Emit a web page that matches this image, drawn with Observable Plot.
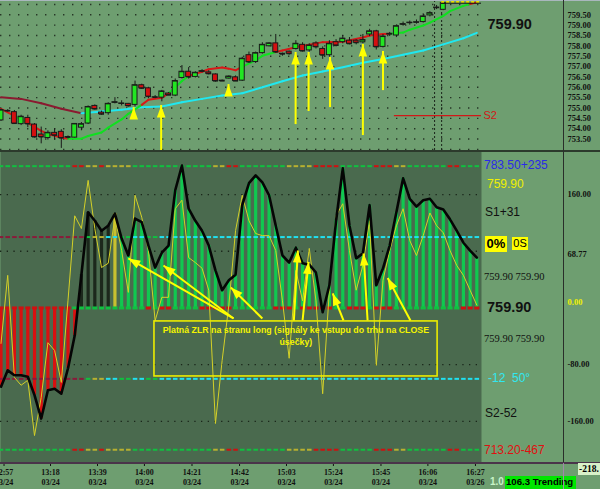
<!DOCTYPE html>
<html><head><meta charset="utf-8">
<script src="https://cdn.jsdelivr.net/npm/d3@7"></script>
<script src="https://cdn.jsdelivr.net/npm/@observablehq/plot@0.6"></script>
<style>
html,body{margin:0;padding:0;background:#6e9e70;}
#chart{position:relative;width:600px;height:489px;overflow:hidden;background:#6e9e70;font-family:"Liberation Sans",Arial,sans-serif;}
#chart svg{position:absolute;left:0;}
.l{position:absolute;white-space:pre;line-height:1;}
.ln{position:absolute;}
</style></head><body><div id="chart"></div>
<script>
// ---------------- DATA ----------------
const timeLabels = ["12:57","13:18","13:39","14:00","14:21","14:42","15:03","15:24","15:45","16:06","16:27"];
const dateLabels = ["03/24","03/24","03/24","03/24","03/24","03/24","03/24","03/24","03/24","03/24","03/26"];
const timeTickBars = [0.45,7.39,14.4,21.4,28.5,35.6,42.6,49.6,56.7,63.7,70.8];

const priceTicks = [753.5,754,754.5,755,755.5,756,756.5,757,757.5,758,758.5,759,759.5];
const gridPrices = [753,753.5,754,754.5,755,755.5,756,756.5,757,757.5,758,758.5,759,759.5,760];

const candleOpen  = [754.40,754.84,754.80,754.22,754.52,754.20,753.72,753.55,753.80,753.85,753.60,753.57,754.05,754.25,755.10,754.78,754.75,755.25,755.20,755.20,755.15,756.10,755.95,755.50,755.50,755.70,755.60,756.45,756.75,756.50,756.75,756.72,756.62,756.32,756.42,756.48,756.32,757.55,757.22,757.65,757.98,758.12,757.62,757.72,757.85,758.05,757.78,758.12,757.85,757.55,758.18,758.18,758.25,758.25,758.17,758.55,758.70,757.95,758.55,758.50,759.02,759.10,759.12,759.15,759.47,759.82,759.74];
const candleClose = [754.90,754.86,754.25,754.58,754.23,753.60,753.60,753.80,753.68,753.55,753.58,754.23,754.22,755.05,754.95,754.70,755.20,755.28,755.22,755.10,756.10,755.95,755.55,755.52,755.80,755.62,756.30,756.75,756.50,756.70,756.78,756.65,756.30,756.30,756.52,756.30,757.38,757.22,757.65,758.05,758.12,757.70,757.60,757.62,758.10,757.75,758.02,757.95,757.55,758.10,758.02,758.35,758.10,758.15,758.28,758.70,757.95,758.45,758.58,758.95,759.05,759.12,759.14,759.42,759.58,759.85,760.06];
const candleHigh  = [754.95,754.92,754.88,754.65,754.65,754.25,754.08,753.90,754.00,753.95,753.65,754.25,754.30,755.10,755.15,754.85,755.25,755.50,755.35,755.22,756.30,756.15,756.00,755.60,755.85,755.75,756.40,757.05,756.95,756.75,756.85,756.80,756.65,756.35,756.55,756.55,757.45,757.70,757.70,758.15,758.15,758.55,757.65,757.75,758.25,758.15,758.10,758.20,757.95,758.25,758.30,758.50,758.40,758.30,758.55,758.80,758.75,758.55,758.65,759.00,759.15,759.20,759.25,759.55,759.65,759.95,760.12];
const candleLow   = [754.35,754.80,754.22,754.15,754.05,753.55,753.27,753.45,753.45,753.05,753.50,753.55,753.90,754.20,754.90,754.65,754.65,755.20,755.10,755.05,755.05,755.90,755.45,755.45,755.30,755.60,755.55,756.40,756.40,756.45,756.70,756.60,756.25,756.28,756.40,756.28,756.28,757.15,757.15,757.60,757.95,757.65,757.50,757.55,757.80,757.70,757.70,757.85,757.35,757.45,757.95,758.10,758.05,758.05,758.10,758.45,757.80,757.90,758.45,758.40,758.95,759.00,759.05,759.10,759.40,759.75,759.70];

const slowBars = [0,3,6,9,12,15,18,21,24,27,30,33,36,39,42,45,48,51,54,57,60,63,66,69,71];
const slowVals = [755.52,755.44,755.23,754.96,754.75,754.83,754.91,755.04,755.07,755.28,755.44,755.60,755.71,756.00,756.29,756.57,756.76,756.97,757.18,757.37,757.57,757.78,758.07,758.37,758.63];
const slowUpRanges = [[12,72]];

const fastBars = [0,2,4,6,7,9,10,12,13,15,16,18,19,21,22,24,25,27,28,30,31,33,34,35,36,38,39,41,42,44,45,48,51,54,55,57,58,60,61,63,64,66,67,69,70,71];
const fastVals = [754.96,754.62,754.28,753.90,753.74,753.58,753.52,753.52,753.65,753.82,754.05,754.45,754.72,755.15,755.40,755.50,755.70,756.30,756.55,756.75,756.87,756.96,756.90,756.82,757.00,757.30,757.52,757.70,757.78,757.93,758.00,758.18,758.20,758.40,758.50,758.57,758.58,758.64,758.78,758.98,759.12,759.45,759.68,759.93,760.02,760.10];
const fastUpRanges = [[1.9,3.4],[9.9,21.3],[24.8,27.8],[35.7,40.2],[57.9,69.9]];

const s2Level = 754.63, s2FromBar = 58.7;
const cursorBars = [64.7, 65.75];
const lastPrice = "759.90";

const upArrowBars = [19.8,23.9,33.95,43.96,45.9,49.1,54.0,57.0];
const upArrowTip  = [755.02,755.12,756.13,757.68,757.68,757.44,758.07,757.73];
const upArrowTail = [754.57,752.95,755.78,754.20,754.83,755.02,753.67,755.84];

// oscillator panel
const oscSmooth = [-111,-88,-95,-95,-97,-123,-156,-116,-114,-121,-85,-39,47,135,123,109,116,133,98,74,126,121,88,57,78,88,166,201,140,123,109,88,53,25,39,47,145,176,187,177,159,116,74,64,85,63,61,50,-6,32,123,197,116,70,77,145,32,56,88,135,183,154,143,152,154,142,139,125,109,92,81,71];
const oscRaw = [-50,46,-98,-109,-102,-180,-126,-49,-60,-105,11,130,112,180,112,57,63,128,81,22,159,128,81,-18,15,15,140,152,71,64,56,25,-163,-74,4,109,159,123,105,102,102,81,10,-71,53,10,84,10,-121,25,130,147,81,25,60,123,-81,39,81,116,140,95,74,102,134,116,106,81,60,46,25,4];
const histState  = "rrrrrrrrrrrrkkkkky" + "g".repeat(54);
const outerState = "ggggggggggg"+"rr"+"yy"+"r"+"yyyy"+"gggggggggggg"+"yy"+"rr"+"ggggggg"+"yyyy"+"rrrr"+"ggggg"+"rrr"+"yy"+"gggggg"+"rr"+"ggg";
const zeroState  = "rrrrrrrrrrr"+"ggggggggggg"+"r"+"g"+"rr"+"gggg"+"rrrrr"+"gggggg"+"rrr"+"g"+"rrrrr"+"gg"+"rrr"+"g"+"rrr"+"gggggggggg"+"rrr";
const innerState = "mmmmmmmmmmmmm"+"g"+"yy"+"cc"+"gg"+"cc"+"gg"+"c".repeat(48);
const outerLevels = [200,-200], innerLevels = [100,-100], dotLevels = [160,80,-80,-160];

const oscAxisTicks = [160,-80,-160];
const oscLastLabel = "68.77", oscLastValue = 68.77;
const noteText = "Platná ZLR na stranu long (signály ke vstupu do trhu na CLOSE\núsečky)";
const arrowTailX = [34.7,34.7,39.0,43.7,45.0,51.1,54.7,61.1];
const arrowTailY = [-14.8,-14.8,-14.8,-17.6,-17.6,-17.6,-17.6,-17.6];
const arrowHeadX = [19.0,24.25,34.3,44.3,45.9,49.5,54.1,57.7];
const arrowHeadY = [69.8,59.9,28.9,81.1,64.9,20.5,76.9,42.3];

const panelLabels = {
  upper: "783.50+235", price: "759.90", s1: "S1+31", pct: "0%", os: "0S",
  pair: "759.90 759.90", big: "759.90", angle: "-12  50°", s2: "S2-52", lower: "713.20-467",
  bottom: "-218.", ver: "1.0", trend: "106.3 Trending"
};

// ---------------- SETUP ----------------
const LIGHT = "#6e9e70", DARK = "#4a6a4e";
const YEL = "#ffff00";
const xDomain = [-0.075, 71.7];
const topYDomain = [752.90, 760.19];
const oscDomain = [-218, 220.7];
const colorOf = {r:"#d81010", g:"#10c850", y:"#c8c030", k:"#1c281c", m:"#8a1a3a", c:"#20e0f0"};
const lvlColor = {r:"#d01010", g:"#10c040", y:"#b8b030", m:"#8a1a3a", c:"#20e0f0"};

const sx = Plot.scale({x: {domain: xDomain, range: [0, 481]}});
const syB = Plot.scale({y: {domain: oscDomain, range: [311, 0]}});

function segs(idx, vals, ups, upC, downC) {
  const out = [];
  for (let k = 1; k < idx.length; k++) {
    const mid = (idx[k-1] + idx[k]) / 2;
    const up = ups.some(([a,b]) => mid >= a && mid <= b);
    out.push({x1: idx[k-1], y1: vals[k-1], x2: idx[k], y2: vals[k], c: up ? upC : downC});
  }
  return out;
}
const headSymbol = {draw(ctx) { ctx.moveTo(0,0); ctx.lineTo(-4.3,12); ctx.lineTo(4.3,12); ctx.closePath(); }};

const candles = candleOpen.map((o,i) => ({i, o, c: candleClose[i], h: candleHigh[i], l: candleLow[i]}));
const upArrows = upArrowBars.map((x,k) => ({x, tip: upArrowTip[k], tail: upArrowTail[k]}));
const slowSegs = segs(slowBars, slowVals, slowUpRanges, "#20e8f0", "#8a1a30");
const fastSegs = segs(fastBars, fastVals, fastUpRanges, "#10e020", "#d81818");

const serif = "Liberation Serif, Times New Roman, serif";

const topPlot = Plot.plot({
  width: 600, height: 151, marginLeft: 0, marginRight: 119, marginTop: 0, marginBottom: 0,
  x: {domain: xDomain, axis: null},
  y: {domain: topYDomain, axis: null},
  color: {type: "identity"},
  style: {background: "transparent"},
  marks: [
    Plot.ruleY(gridPrices, {stroke: "#263626", strokeWidth: 1.4, strokeDasharray: "1.4 7.6"}),
    Plot.ruleX(cursorBars, {stroke: "#1a241a", strokeWidth: 1, strokeDasharray: "2 2"}),
    Plot.link(slowSegs, {x1: "x1", y1: "y1", x2: "x2", y2: "y2", stroke: "c", strokeWidth: 2, strokeLinecap: "round"}),
    Plot.link(fastSegs, {x1: "x1", y1: "y1", x2: "x2", y2: "y2", stroke: "c", strokeWidth: 2, strokeLinecap: "round"}),
    Plot.ruleY([s2Level], {y: d => d, x1: () => s2FromBar, x2: () => xDomain[1], stroke: "#d01818", strokeWidth: 1.3}),
    Plot.text(["S2"], {y: () => s2Level, text: d => d, frameAnchor: "right", dx: 2, textAnchor: "start", fill: "#d01818", fontSize: 11, fontFamily: "Liberation Sans"}),
    Plot.ruleX(candles, {x: "i", y1: "l", y2: "h", stroke: "#1a1a1a", strokeWidth: 1}),
    Plot.rect(candles, {x1: d => d.i - 0.37, x2: d => d.i + 0.37, y1: "o", y2: "c", fill: d => d.c >= d.o ? "#22e622" : "#d41010", stroke: "#1a1a1a", strokeWidth: 1}),
    Plot.link(candles, {x1: d => d.i - 0.37, x2: d => d.i + 0.37, y1: "c", y2: "c", stroke: "#1a1a1a", strokeWidth: 1}),
    Plot.ruleY([candleHigh[candleHigh.length-1]], {y: d => d, x1: () => cursorBars[1], x2: () => xDomain[1], stroke: "#e8e000", strokeWidth: 2, strokeDasharray: "3 2"}),
    Plot.ruleY([candleClose[candleClose.length-1]], {y: d => d, x1: () => cursorBars[1], x2: () => xDomain[1], stroke: "#111", strokeWidth: 1}),
    Plot.ruleX(upArrows, {x: "x", y1: "tail", y2: "tip", stroke: YEL, strokeWidth: 2}),
    Plot.dot(upArrows, {x: "x", y: "tip", symbol: headSymbol, fill: YEL, stroke: "none"}),
    Plot.text(priceTicks, {y: d => d, text: d => d.toFixed(2), frameAnchor: "right", dx: 86, textAnchor: "start", fontSize: 8.5, fontWeight: "bold", fontFamily: serif, fill: "#111"}),
    Plot.text([lastPrice], {text: d => d, frameAnchor: "top-right", dx: 6, dy: 18, textAnchor: "start", fontSize: 14.5, fontWeight: "bold", fontFamily: "Liberation Sans", fill: "#111"})
  ]
});
topPlot.style.top = "0px";

// oscillator
const histo = oscSmooth.map((v,i) => ({i, v, c: colorOf[histState[i]]}));
const dashes = [];
for (const lv of outerLevels) for (let i = 0; i < 72; i++) dashes.push({x1: i-0.34, x2: i+0.34, y: lv, c: lvlColor[outerState[i]], w: 2});
for (const lv of innerLevels) for (let i = 0; i < 72; i++) dashes.push({x1: i-0.34, x2: i+0.34, y: lv, c: lvlColor[innerState[i]], w: 2});
for (let i = 0; i < 72; i++) dashes.push({x1: i-0.38, x2: i+0.38, y: 0, c: lvlColor[zeroState[i]], w: 3});
const rawPts = oscRaw.map((v,i) => ({i, v}));
const smoothPts = oscSmooth.map((v,i) => ({i, v}));
const arrows = arrowTailX.map((x,k) => {
  const hx = arrowHeadX[k], hy = arrowHeadY[k], ty = arrowTailY[k];
  const dx = sx.apply(hx) - sx.apply(x), dy = syB.apply(hy) - syB.apply(ty);
  return {tx: x, ty, hx, hy, a: Math.atan2(dx, -dy) * 180 / Math.PI};
});
const tickMap = new Map(timeTickBars.map((t,k) => [t, timeLabels[k] + "\n" + dateLabels[k]]));

const botPlot = Plot.plot({
  width: 600, height: 338, marginLeft: 0, marginRight: 119, marginTop: 0, marginBottom: 27,
  x: {domain: xDomain, axis: null},
  y: {domain: oscDomain, axis: null},
  color: {type: "identity"},
  style: {background: "transparent"},
  marks: [
    Plot.frame({fill: DARK, stroke: "none"}),
    Plot.ruleY(dotLevels, {stroke: "#1a261a", strokeWidth: 1.3, strokeDasharray: "1.3 5.4"}),
    Plot.ruleX(histo, {x: "i", y1: 0, y2: "v", stroke: "c", strokeWidth: 3.2}),
    Plot.link(dashes, {x1: "x1", x2: "x2", y1: "y", y2: "y", stroke: "c", strokeWidth: "w"}),
    Plot.line(rawPts, {x: "i", y: "v", stroke: "#d4d028", strokeWidth: 1}),
    Plot.line(smoothPts, {x: "i", y: "v", stroke: "#050505", strokeWidth: 2.6, curve: "linear"}),
    Plot.rect([0], {x1: () => 22.9, x2: () => 65.15, y1: () => -19, y2: () => -96.6, fill: "none", stroke: "#ecec00", strokeWidth: 1.6}),
    Plot.text([noteText], {x: () => 44, y: () => -24, text: d => d, lineAnchor: "top", fill: "#f4f400", fontSize: 8.8, fontWeight: "bold", fontFamily: "Liberation Sans", lineHeight: 1.3}),
    Plot.link(arrows, {x1: "tx", y1: "ty", x2: "hx", y2: "hy", stroke: YEL, strokeWidth: 2}),
    Plot.dot(arrows, {x: "hx", y: "hy", symbol: headSymbol, rotate: "a", fill: YEL, stroke: "none"}),
    Plot.text(oscAxisTicks, {y: d => d, text: d => d.toFixed(2), frameAnchor: "right", dx: 86, textAnchor: "start", fontSize: 8.5, fontWeight: "bold", fontFamily: serif, fill: "#111"}),
    Plot.text([oscLastLabel], {y: () => oscLastValue, text: d => d, frameAnchor: "right", dx: 86, dy: -5, textAnchor: "start", fontSize: 8.5, fontWeight: "bold", fontFamily: serif, fill: "#111"}),
    Plot.text(["0.00"], {y: () => 0, text: d => d, frameAnchor: "right", dx: 86, dy: -6, textAnchor: "start", fontSize: 8.5, fontWeight: "bold", fontFamily: serif, fill: "#f0f000"}),
    Plot.axisX({ticks: timeTickBars, tickFormat: d => tickMap.get(d), tickSize: 4, tickPadding: 1, fontSize: 8, fontWeight: "bold", fontFamily: serif, lineHeight: 1.25, stroke: "#111", fill: "#111"})
  ]
});
botPlot.style.top = "151px";

const chart = document.getElementById("chart");
chart.append(topPlot, botPlot);

function line(l, t, w, h, c) { const d = document.createElement("div"); d.className = "ln"; Object.assign(d.style, {left: l+"px", top: t+"px", width: w+"px", height: h+"px", background: c}); chart.append(d); return d; }
function lbl(text, l, t, css) { const d = document.createElement("div"); d.className = "l"; d.textContent = text; d.style.left = l+"px"; d.style.top = t+"px"; Object.assign(d.style, css); chart.append(d); return d; }

line(0, 0, 600, 1, "#a9b7bd");
line(0, 150, 600, 1.6, "#2c3a2c");
line(0, 462, 600, 1.5, "#4a344a");
line(562.6, 0, 1.4, 462, "#2a2e2a");

const sans = "Liberation Sans, Arial, sans-serif";
lbl(panelLabels.upper, 484, 159, {fontSize: "12px", color: "#2a2ae8", fontFamily: sans});
lbl(panelLabels.price, 487, 178, {fontSize: "12px", color: "#f0f000", fontFamily: sans});
lbl(panelLabels.s1, 485, 206, {fontSize: "12px", color: "#111", fontFamily: sans});
lbl(panelLabels.pct, 485, 236, {fontSize: "13px", fontWeight: "bold", color: "#000", background: "#ffff00", width: "22px", height: "16px", lineHeight: "16px", textAlign: "center", fontFamily: sans});
lbl(panelLabels.os, 512, 237, {fontSize: "11px", color: "#000", background: "#ffff00", width: "16px", height: "13px", lineHeight: "13px", textAlign: "center", fontFamily: sans});
lbl(panelLabels.pair, 484, 272, {fontSize: "10.5px", color: "#111", fontFamily: serif});
lbl(panelLabels.big, 487, 300, {fontSize: "14.5px", fontWeight: "bold", color: "#111", fontFamily: sans});
lbl(panelLabels.pair, 484, 334, {fontSize: "10.5px", color: "#111", fontFamily: serif});
lbl(panelLabels.angle, 488, 372, {fontSize: "12px", color: "#30e8f0", fontFamily: sans});
lbl(panelLabels.s2, 485, 407, {fontSize: "12px", color: "#111", fontFamily: sans});
lbl(panelLabels.lower, 484, 444, {fontSize: "12px", color: "#e01010", fontFamily: sans});

lbl(panelLabels.trend, 505, 476, {fontSize: "9.6px", fontWeight: "bold", color: "#000", background: "#00e600", width: "70px", height: "13px", lineHeight: "12px", paddingLeft: "1px", fontFamily: sans});
lbl(panelLabels.ver, 490, 477, {fontSize: "10px", fontWeight: "bold", color: "#c8f4c8", fontFamily: sans});
line(562.6, 463, 1.4, 26, "#a088a8");
lbl(panelLabels.bottom, 578, 463, {fontSize: "9.5px", fontWeight: "bold", color: "#000", background: "#d8f2c8", width: "22px", height: "12px", lineHeight: "12px", paddingLeft: "1px", fontFamily: serif});
</script></body></html>
